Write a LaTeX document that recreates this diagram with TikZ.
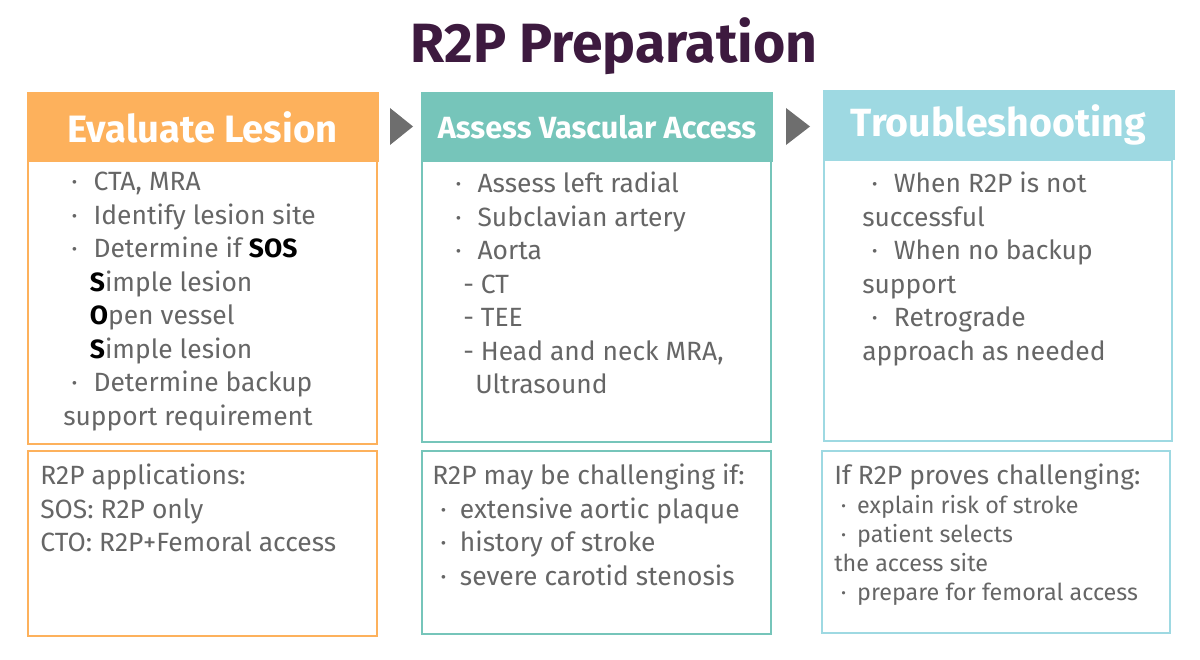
\documentclass[tikz,border=0pt]{standalone}
\usepackage{fontspec}
\setmainfont{Fira Sans}
\usetikzlibrary{positioning}
\definecolor{titlec}{HTML}{3D1A3F}
\definecolor{txt}{HTML}{666666}
\definecolor{orangec}{HTML}{FDB15C}
\definecolor{tealc}{HTML}{76C5BA}
\definecolor{bluec}{HTML}{9ED9E2}
\definecolor{arrowc}{HTML}{6E6E6E}
\tikzset{
    head/.style={fill=#1, draw=#1, line width=2pt, minimum width=262pt, minimum height=50pt,
        text=white, font=\bfseries\fontsize{28.6}{30}\selectfont},
    body/.style={anchor=north west, align=left, text=txt, inner sep=0pt,
        font=\fontsize{19.8}{25.1}\selectfont},
    small/.style={anchor=north west, align=left, text=txt, inner sep=0pt,
        font=\fontsize{17.5}{21.8}\selectfont},
    tri/.style={fill=arrowc}
}
\newcommand{\bk}[1]{\textcolor{black}{\textbf{#1}}}
\begin{document}
\begin{tikzpicture}[x=0.75pt,y=-0.75pt]
    \useasboundingbox (0,0) rectangle (1200,660);

    \node[text=titlec, font=\bfseries\fontsize{41.5}{44}\selectfont] (title) at (614,46) {R2P Preparation};

    % headers
    \node[head=orangec] (h1) at (202.5,127) {Evaluate Lesion};
    \node[head=tealc, font=\bfseries\fontsize{23}{26}\selectfont] (h2) at (597,127) {Assess Vascular Access};
    \node[head=bluec, font=\bfseries\fontsize{29.5}{32}\selectfont] (h3) at (998.5,125) {Troubleshooting};

    % arrows between headers
    \fill[tri] (390,108) -- (413,126.5) -- (390,145) -- cycle;
    \fill[tri] (786,108) -- (810,126.5) -- (786,145) -- cycle;

    % panels
    \draw[orangec, line width=2pt] (28,160) rectangle (377,444);
    \draw[tealc, line width=2pt] (422,160) rectangle (771,442);
    \draw[bluec, line width=2pt] (824,160) rectangle (1172,441);
    \draw[orangec, line width=2pt] (28,451) rectangle (377,636);
    \draw[tealc, line width=2pt] (422,451) rectangle (771,634);
    \draw[bluec, line width=2pt] (822,451) rectangle (1170,633);

    % panel texts
    \node[body] (t1) at (63,172) {\hspace{6pt}·\hspace{12pt}CTA, MRA\\
        \hspace{6pt}·\hspace{12pt}Identify lesion site\\
        \hspace{6pt}·\hspace{12pt}Determine if \bk{SOS}\\
        \hspace{20pt}\bk{S}imple lesion\\
        \hspace{20pt}\bk{O}pen vessel\\
        \hspace{20pt}\bk{S}imple lesion\\
        \hspace{6pt}·\hspace{12pt}Determine backup\\
        support requirement};
    \node[body] (t2) at (455,172) {·\hspace{12pt}Assess left radial\\
        ·\hspace{12pt}Subclavian artery\\
        ·\hspace{12pt}Aorta\\
        \hspace{6pt}- CT\\
        \hspace{6pt}- TEE\\
        \hspace{6pt}- Head and neck MRA,\\
        \hspace{15pt}Ultrasound};
    \node[body] (t3) at (862,172) {\hspace{7pt}·\hspace{12pt}When R2P is not\\
        successful\\
        \hspace{7pt}·\hspace{12pt}When no backup\\
        support\\
        \hspace{7pt}·\hspace{12pt}Retrograde\\
        approach as needed};

    \node[body] (b1) at (40,464) {R2P applications:\\SOS: R2P only\\CTO: R2P+Femoral access};
    \node[body] (b2) at (432,464) {R2P may be challenging if:\\
        \hspace{6pt}·\hspace{10pt}extensive aortic plaque\\
        \hspace{6pt}·\hspace{10pt}history of stroke\\
        \hspace{6pt}·\hspace{10pt}severe carotid stenosis};
    \node[body] (b3a) at (834,464) {If R2P proves challenging:};
    \node[small] (b3) at (834,495) {\hspace{5pt}·\hspace{8pt}explain risk of stroke\\
        \hspace{5pt}·\hspace{8pt}patient selects\\
        the access site\\
        \hspace{5pt}·\hspace{8pt}prepare for femoral access};
\end{tikzpicture}
\end{document}
